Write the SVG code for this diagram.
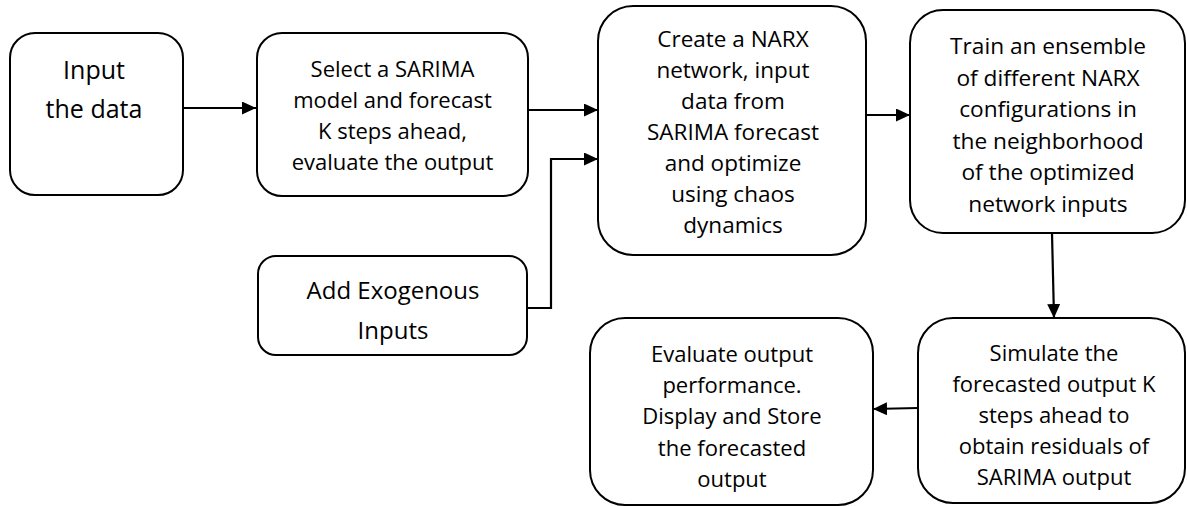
<svg xmlns="http://www.w3.org/2000/svg" width="1187" height="506" viewBox="0 0 1187 506">
<defs>
<style>
.box{fill:#fff;stroke:#000;stroke-width:2}
.t{font-family:"Open Sans","Liberation Sans",sans-serif;fill:#000;text-anchor:middle}
.c{fill:none;stroke:#000;stroke-width:2.2}
</style>
<marker id="ah" markerUnits="userSpaceOnUse" markerWidth="16" markerHeight="14" refX="14" refY="6.5" orient="auto">
<path d="M0,0 L14,6.5 L0,13 Z" fill="#000"/>
</marker>
</defs>
<rect width="1187" height="506" fill="#fff"/>
<g id="connectors">
<path class="c" d="M183,108 L256,108" marker-end="url(#ah)"/>
<path class="c" d="M528,110 L598,110" marker-end="url(#ah)"/>
<path class="c" d="M527,308 L551,308 L551,159 L598,159" marker-end="url(#ah)"/>
<path class="c" d="M866,115 L910,115" marker-end="url(#ah)"/>
<path class="c" d="M1052,233 L1054,318" marker-end="url(#ah)"/>
<path class="c" d="M918,408 L873,409" marker-end="url(#ah)"/>
</g>
<g id="input">
<rect class="box" x="10" y="33" width="173" height="162" rx="25"/>
<text class="t" font-size="25"><tspan x="94" y="79">Input</tspan><tspan x="94" y="118">the data</tspan></text>
</g>
<g id="sarima">
<rect class="box" x="257" y="33" width="271" height="163" rx="25"/>
<text class="t" font-size="22"><tspan x="392.5" y="77">Select a SARIMA</tspan><tspan x="392.5" y="108">model and forecast</tspan><tspan x="392.5" y="139">K steps ahead,</tspan><tspan x="392.5" y="170">evaluate the output</tspan></text>
</g>
<g id="narx">
<rect class="box" x="598" y="6" width="268" height="249" rx="35"/>
<text class="t" font-size="22.5"><tspan x="733" y="47">Create a NARX</tspan><tspan x="733" y="78">network, input</tspan><tspan x="733" y="109">data from</tspan><tspan x="733" y="140">SARIMA forecast</tspan><tspan x="733" y="171">and optimize</tspan><tspan x="733" y="202">using chaos</tspan><tspan x="733" y="233">dynamics</tspan></text>
</g>
<g id="ensemble">
<rect class="box" x="910" y="10" width="275" height="223" rx="33"/>
<text class="t" font-size="22.7"><tspan x="1048" y="54">Train an ensemble</tspan><tspan x="1048" y="86">of different NARX</tspan><tspan x="1048" y="117">configurations in</tspan><tspan x="1048" y="149">the neighborhood</tspan><tspan x="1048" y="180">of the optimized</tspan><tspan x="1048" y="212">network inputs</tspan></text>
</g>
<g id="exogenous">
<rect class="box" x="258" y="256" width="269" height="99" rx="18"/>
<text class="t" font-size="24"><tspan x="393" y="299">Add Exogenous</tspan><tspan x="393" y="339">Inputs</tspan></text>
</g>
<g id="evaluate">
<rect class="box" x="590" y="318" width="283" height="187" rx="35"/>
<text class="t" font-size="22"><tspan x="732" y="362">Evaluate output</tspan><tspan x="732" y="393">performance.</tspan><tspan x="732" y="424">Display and Store</tspan><tspan x="732" y="456">the forecasted</tspan><tspan x="732" y="487">output</tspan></text>
</g>
<g id="simulate">
<rect class="box" x="918" y="318" width="267" height="185" rx="35"/>
<text class="t" font-size="22"><tspan x="1054" y="361">Simulate the</tspan><tspan x="1054" y="392">forecasted output K</tspan><tspan x="1054" y="423">steps ahead to</tspan><tspan x="1054" y="454">obtain residuals of</tspan><tspan x="1054" y="485">SARIMA output</tspan></text>
</g>
</svg>
